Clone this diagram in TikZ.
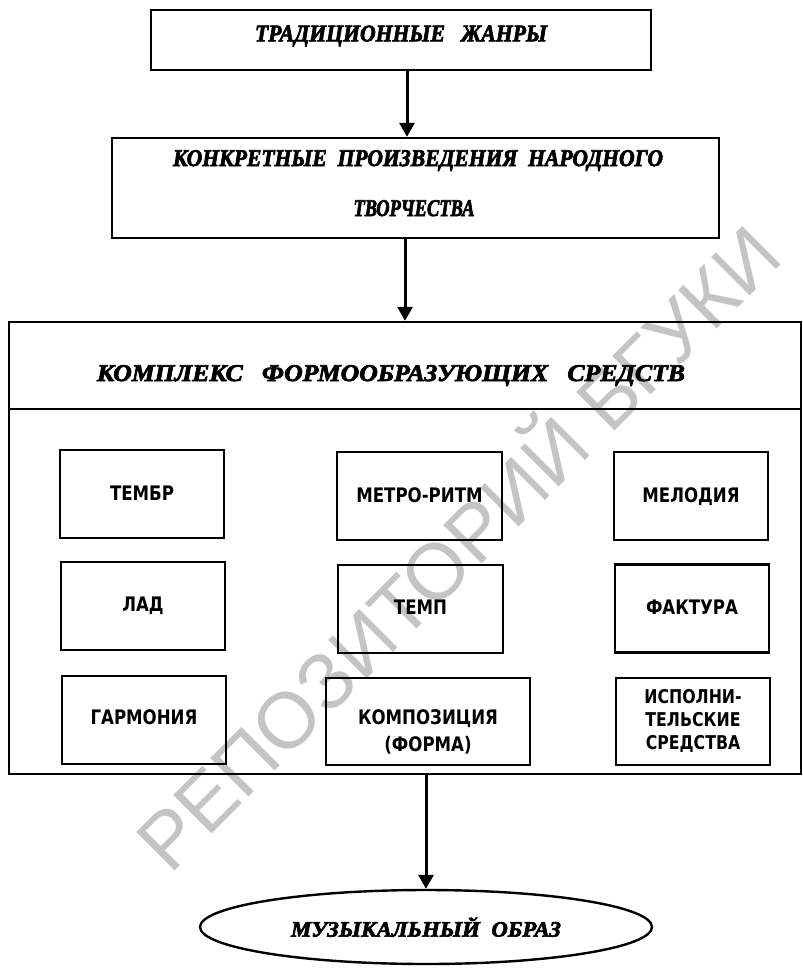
\documentclass[tikz,border=0pt]{standalone}
\usepackage{fontspec}
\usepackage{graphicx}
\setmainfont{Liberation Serif}[BoldItalicFeatures={FakeBold=3}]
\newfontfamily\boxfont{DejaVu Sans}
\newfontfamily\wmfont{Liberation Sans}
\usetikzlibrary{arrows.meta,shapes.geometric}
\definecolor{wmgray}{RGB}{196,196,196}
% horizontal fit of a text to a given width, height unchanged
\newcommand{\fitw}[2]{\resizebox{#1}{\height}{#2}}
% condensed line for the small boxes
\newcommand{\cnd}[1]{\scalebox{0.83}[1]{#1}}
\tikzset{
  frame/.style={draw, line width=2.4pt, rectangle, inner sep=0pt},
  titlefont/.style={font=\bfseries\itshape\fontsize{24}{26}\selectfont},
  cell/.style={frame, minimum width=164pt, minimum height=88pt},
  celltext/.style={font=\boxfont\bfseries\fontsize{20}{24}\selectfont, align=center, inner sep=0pt},
  arr/.style={line width=3pt, -{Triangle[length=14pt,width=15pt]}},
}
\begin{document}
\begin{tikzpicture}[x=1pt,y=-1pt]
\useasboundingbox (0,0) rectangle (803,969);
\fill[white] (0,0) rectangle (803,969);

% watermark
\node[rotate=45, anchor=base west, text=wmgray, inner sep=0pt,
  font=\wmfont\fontsize{79}{79}\selectfont] (wm) at (170,876)
  {РЕПОЗИТОРИЙ БГУКИ};

% upper chain
\node[frame, minimum width=500pt, minimum height=60pt] (genres) at (401,40) {};
\node[titlefont, inner sep=0pt] (genrestext) at ([yshift=4pt]genres.center)
  {\fitw{292pt}{ТРАДИЦИОННЫЕ\ \ \ ЖАНРЫ}};

\node[frame, minimum width=607pt, minimum height=100pt] (works) at (415.5,188) {};
\node[titlefont, inner sep=0pt, anchor=base] (works1) at (418,166)
  {\fitw{490pt}{КОНКРЕТНЫЕ\ \ ПРОИЗВЕДЕНИЯ\ \ НАРОДНОГО}};
\node[titlefont, inner sep=0pt, anchor=base] (works2) at (414,216)
  {\fitw{121pt}{ТВОРЧЕСТВА}};

% complex of means
\node[frame, minimum width=792pt, minimum height=87pt] (head) at (405,365.5) {};
\node[titlefont, inner sep=0pt, anchor=base] (headtext) at (391,381)
  {\fitw{588pt}{КОМПЛЕКС\ \ \ ФОРМООБРАЗУЮЩИХ\ \ \ СРЕДСТВ}};
\node[frame, minimum width=792pt, minimum height=365pt] (body) at (405,591.5) {};

\node[cell] (timbre) at (142,494) {};
\node[cell, minimum width=165pt] (metro) at (419.5,496) {};
\node[cell, minimum width=154pt] (melody) at (691,496) {};
\node[cell] (mode) at (143,606) {};
\node[cell, minimum width=165pt] (tempo) at (420.5,609) {};
\node[cell, minimum width=154pt] (texture) at (692,608.5) {};
\node[cell] (harmony) at (144,720) {};
\node[cell, minimum width=204pt, minimum height=87pt] (form) at (428,721.5) {};
\node[cell, minimum width=154pt, minimum height=87pt] (perf) at (693,721.5) {};

\node[celltext] (timbret) at ([yshift=1pt]timbre.center) {\cnd{ТЕМБР}};
\node[celltext] (metrot) at ([yshift=1pt]metro.center) {\cnd{МЕТРО-РИТМ}};
\node[celltext] (melodyt) at ([yshift=-1pt]melody.center) {\cnd{МЕЛОДИЯ}};
\node[celltext] (modet) at ([yshift=0pt]mode.center) {\cnd{ЛАД}};
\node[celltext] (tempot) at ([yshift=2pt]tempo.center) {\cnd{ТЕМП}};
\node[celltext] (texturet) at ([yshift=1pt]texture.center) {\cnd{ФАКТУРА}};
\node[celltext] (harmonyt) at ([yshift=3pt]harmony.center) {\cnd{ГАРМОНИЯ}};
\node[celltext, font=\boxfont\bfseries\fontsize{20}{27}\selectfont] (formt) at ([yshift=-10pt]form.center)
  {\cnd{КОМПОЗИЦИЯ}\\\cnd{(ФОРМА)}};
\node[celltext, font=\boxfont\bfseries\fontsize{19}{23}\selectfont] (perft) at ([yshift=1pt]perf.center)
  {\cnd{ИСПОЛНИ-}\\\cnd{ТЕЛЬСКИЕ}\\\cnd{СРЕДСТВА}};

% result
\node[draw, line width=2.4pt, ellipse, minimum width=452pt, minimum height=74pt, inner sep=0pt] (image) at (426,927) {};
\node[font=\bfseries\itshape\fontsize{22}{24}\selectfont, inner sep=0pt] (imaget) at (image.center)
  {\fitw{270pt}{МУЗЫКАЛЬНЫЙ\ \ ОБРАЗ}};

% connectors
\draw[arr] ([xshift=6pt]genres.south) -- ([xshift=6pt]genres.south |- works.north);
\draw[arr] ([xshift=-10.5pt]works.south) -- ([xshift=-10.5pt]works.south |- head.north);
\draw[arr] (body.south -| image.north) -- (image.north);
\end{tikzpicture}
\end{document}
